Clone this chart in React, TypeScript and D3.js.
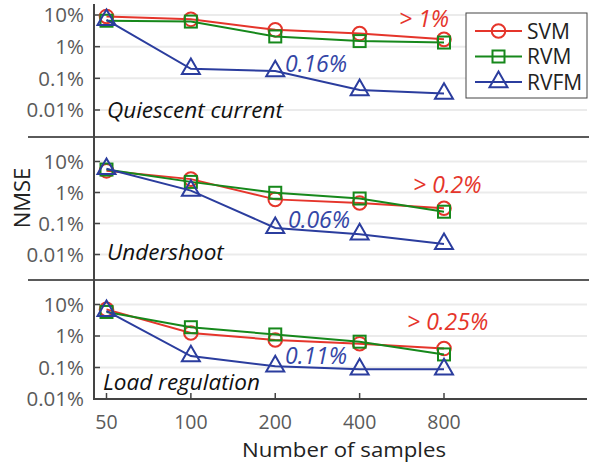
import * as d3 from "d3";
import React from "react";

const samples = [50, 100, 200, 400, 800];
const methods = ["SVM", "RVM", "RVFM"];
const yTicks = [10, 1, 0.1, 0.01];
const panels = ["Quiescent current", "Undershoot", "Load regulation"];

// NMSE in percent, one array per panel and method
const quiescentSVM = [9, 7.3, 3.4, 2.6, 1.7];
const quiescentRVM = [6.6, 6.2, 2.1, 1.5, 1.35];
const quiescentRVFM = [7, 0.2, 0.17, 0.043, 0.033];
const undershootSVM = [5, 2.7, 0.6, 0.46, 0.31];
const undershootRVM = [5.5, 2.2, 0.98, 0.64, 0.24];
const undershootRVFM = [5.8, 1.15, 0.072, 0.045, 0.022];
const loadSVM = [7, 1.25, 0.75, 0.57, 0.4];
const loadRVM = [5.8, 1.9, 1.12, 0.66, 0.26];
const loadRVFM = [6.3, 0.23, 0.11, 0.088, 0.088];

const bestLabels = ["0.16%", "0.06%", "0.11%"];
const worstLabels = ["> 1%", "> 0.2%", "> 0.25%"];

const colors = ["#e5352b", "#16881b", "#2b3d9e"];
const W = 589;
const H = 464;
const FONT = "'Open Sans', 'Noto Sans', sans-serif";

const panelData = [
  [quiescentSVM, quiescentRVM, quiescentRVFM],
  [undershootSVM, undershootRVM, undershootRVFM],
  [loadSVM, loadRVM, loadRVFM],
];

const x = d3.scaleLog().base(2).domain([50, 800]).range([106.5, 444]);
const axisX = 94;
const rightX = 587;
const panelY = [
  { top: 4, bottom: 137, scale: d3.scaleLog().domain([0.01, 10]).range([110, 15]) },
  { top: 137, bottom: 280, scale: d3.scaleLog().domain([0.01, 10]).range([254.5, 161.5]) },
  { top: 280, bottom: 399, scale: d3.scaleLog().domain([0.01, 10]).range([399, 304.5]) },
];

const Marker = ({ kind, cx, cy, color }) => {
  if (kind === 0) return <circle cx={cx} cy={cy} r={6.8} fill="none" stroke={color} strokeWidth={2} />;
  if (kind === 1) return <rect x={cx - 6} y={cy - 6} width={12} height={12} fill="none" stroke={color} strokeWidth={2} />;
  const tri = d3.symbol().type(d3.symbolTriangle).size(140)();
  return <path d={tri} transform={`translate(${cx},${cy})`} fill="none" stroke={color} strokeWidth={2} />;
};

const annoPos = [
  { worst: [399, 27], best: [285, 72] },
  { worst: [413, 193], best: [288, 228] },
  { worst: [407, 330], best: [285, 364] },
];
const labelPos = [
  [107, 118],
  [107, 260],
  [103, 390],
];

export default function App() {
  const line = (ys) =>
    d3
      .line<number>()
      .x((_, i) => x(samples[i]))
      .y((v) => ys(v));

  return (
    <svg width={W} height={H} style={{ position: "absolute", left: 0, top: 0, background: "#fff" }} fontFamily={FONT}>
      {panelY.map((p, pi) => (
        <g key={pi}>
          {yTicks.map((t) => (
            <g key={t}>
              <line x1={axisX} x2={rightX} y1={p.scale(t)} y2={p.scale(t)} stroke="#ebebeb" strokeWidth={2} />
              <line x1={axisX} x2={axisX + 6} y1={p.scale(t)} y2={p.scale(t)} stroke="#444" strokeWidth={1.5} />
              <text x={84} y={p.scale(t)} dy="0.36em" textAnchor="end" fontSize={20.5} fill="#5a5a5a">
                {`${t}%`}
              </text>
            </g>
          ))}
          <text x={labelPos[pi][0]} y={labelPos[pi][1]} fontSize={22.5} fontStyle="italic" fill="#111">
            {panels[pi]}
          </text>
          {panelData[pi].map((series, si) => (
            <g key={si}>
              <path d={line(p.scale)(series) || ""} fill="none" stroke={colors[si]} strokeWidth={2} />
              {series.map((v, i) => (
                <Marker key={i} kind={si} cx={x(samples[i])} cy={p.scale(v)} color={colors[si]} />
              ))}
            </g>
          ))}
          <text x={annoPos[pi].worst[0]} y={annoPos[pi].worst[1]} fontSize={23} fontStyle="italic" fill="#e5352b">
            {worstLabels[pi]}
          </text>
          <text x={annoPos[pi].best[0]} y={annoPos[pi].best[1]} fontSize={23} fontStyle="italic" fill="#3446a6">
            {bestLabels[pi]}
          </text>
        </g>
      ))}
      {/* panel separators */}
      {[137, 280].map((y) => (
        <line key={y} x1={28} x2={W} y1={y} y2={y} stroke="#5a5a5a" strokeWidth={2} />
      ))}
      <line x1={axisX} x2={axisX} y1={4} y2={400} stroke="#444" strokeWidth={2} />
      <line x1={axisX} x2={rightX} y1={399} y2={399} stroke="#444" strokeWidth={2} />
      {samples.map((s) => (
        <g key={s}>
          <line x1={x(s)} x2={x(s)} y1={399} y2={393} stroke="#444" strokeWidth={1.5} />
          <text x={x(s)} y={429} textAnchor="middle" fontSize={19.5} fill="#5a5a5a">
            {s}
          </text>
        </g>
      ))}
      <text x={242} y={457} fontSize={20} textLength={204} lengthAdjust="spacingAndGlyphs" fill="#222">
        Number of samples
      </text>
      <text transform="translate(30,198) rotate(-90)" textAnchor="middle" fontSize={22} fill="#222">
        NMSE
      </text>
      {/* legend */}
      <g>
        <rect x={466} y={13} width={121} height={85} fill="#fff" stroke="#444" strokeWidth={1} />
        {methods.map((m, i) => {
          const cy = 31 + i * 25.5;
          return (
            <g key={m}>
              <line x1={475} x2={522} y1={cy} y2={cy} stroke={colors[i]} strokeWidth={2} />
              <Marker kind={i} cx={498.5} cy={cy} color={colors[i]} />
              <text x={527} y={cy} dy="0.36em" fontSize={21} fill="#222">
                {m}
              </text>
            </g>
          );
        })}
      </g>
    </svg>
  );
}
